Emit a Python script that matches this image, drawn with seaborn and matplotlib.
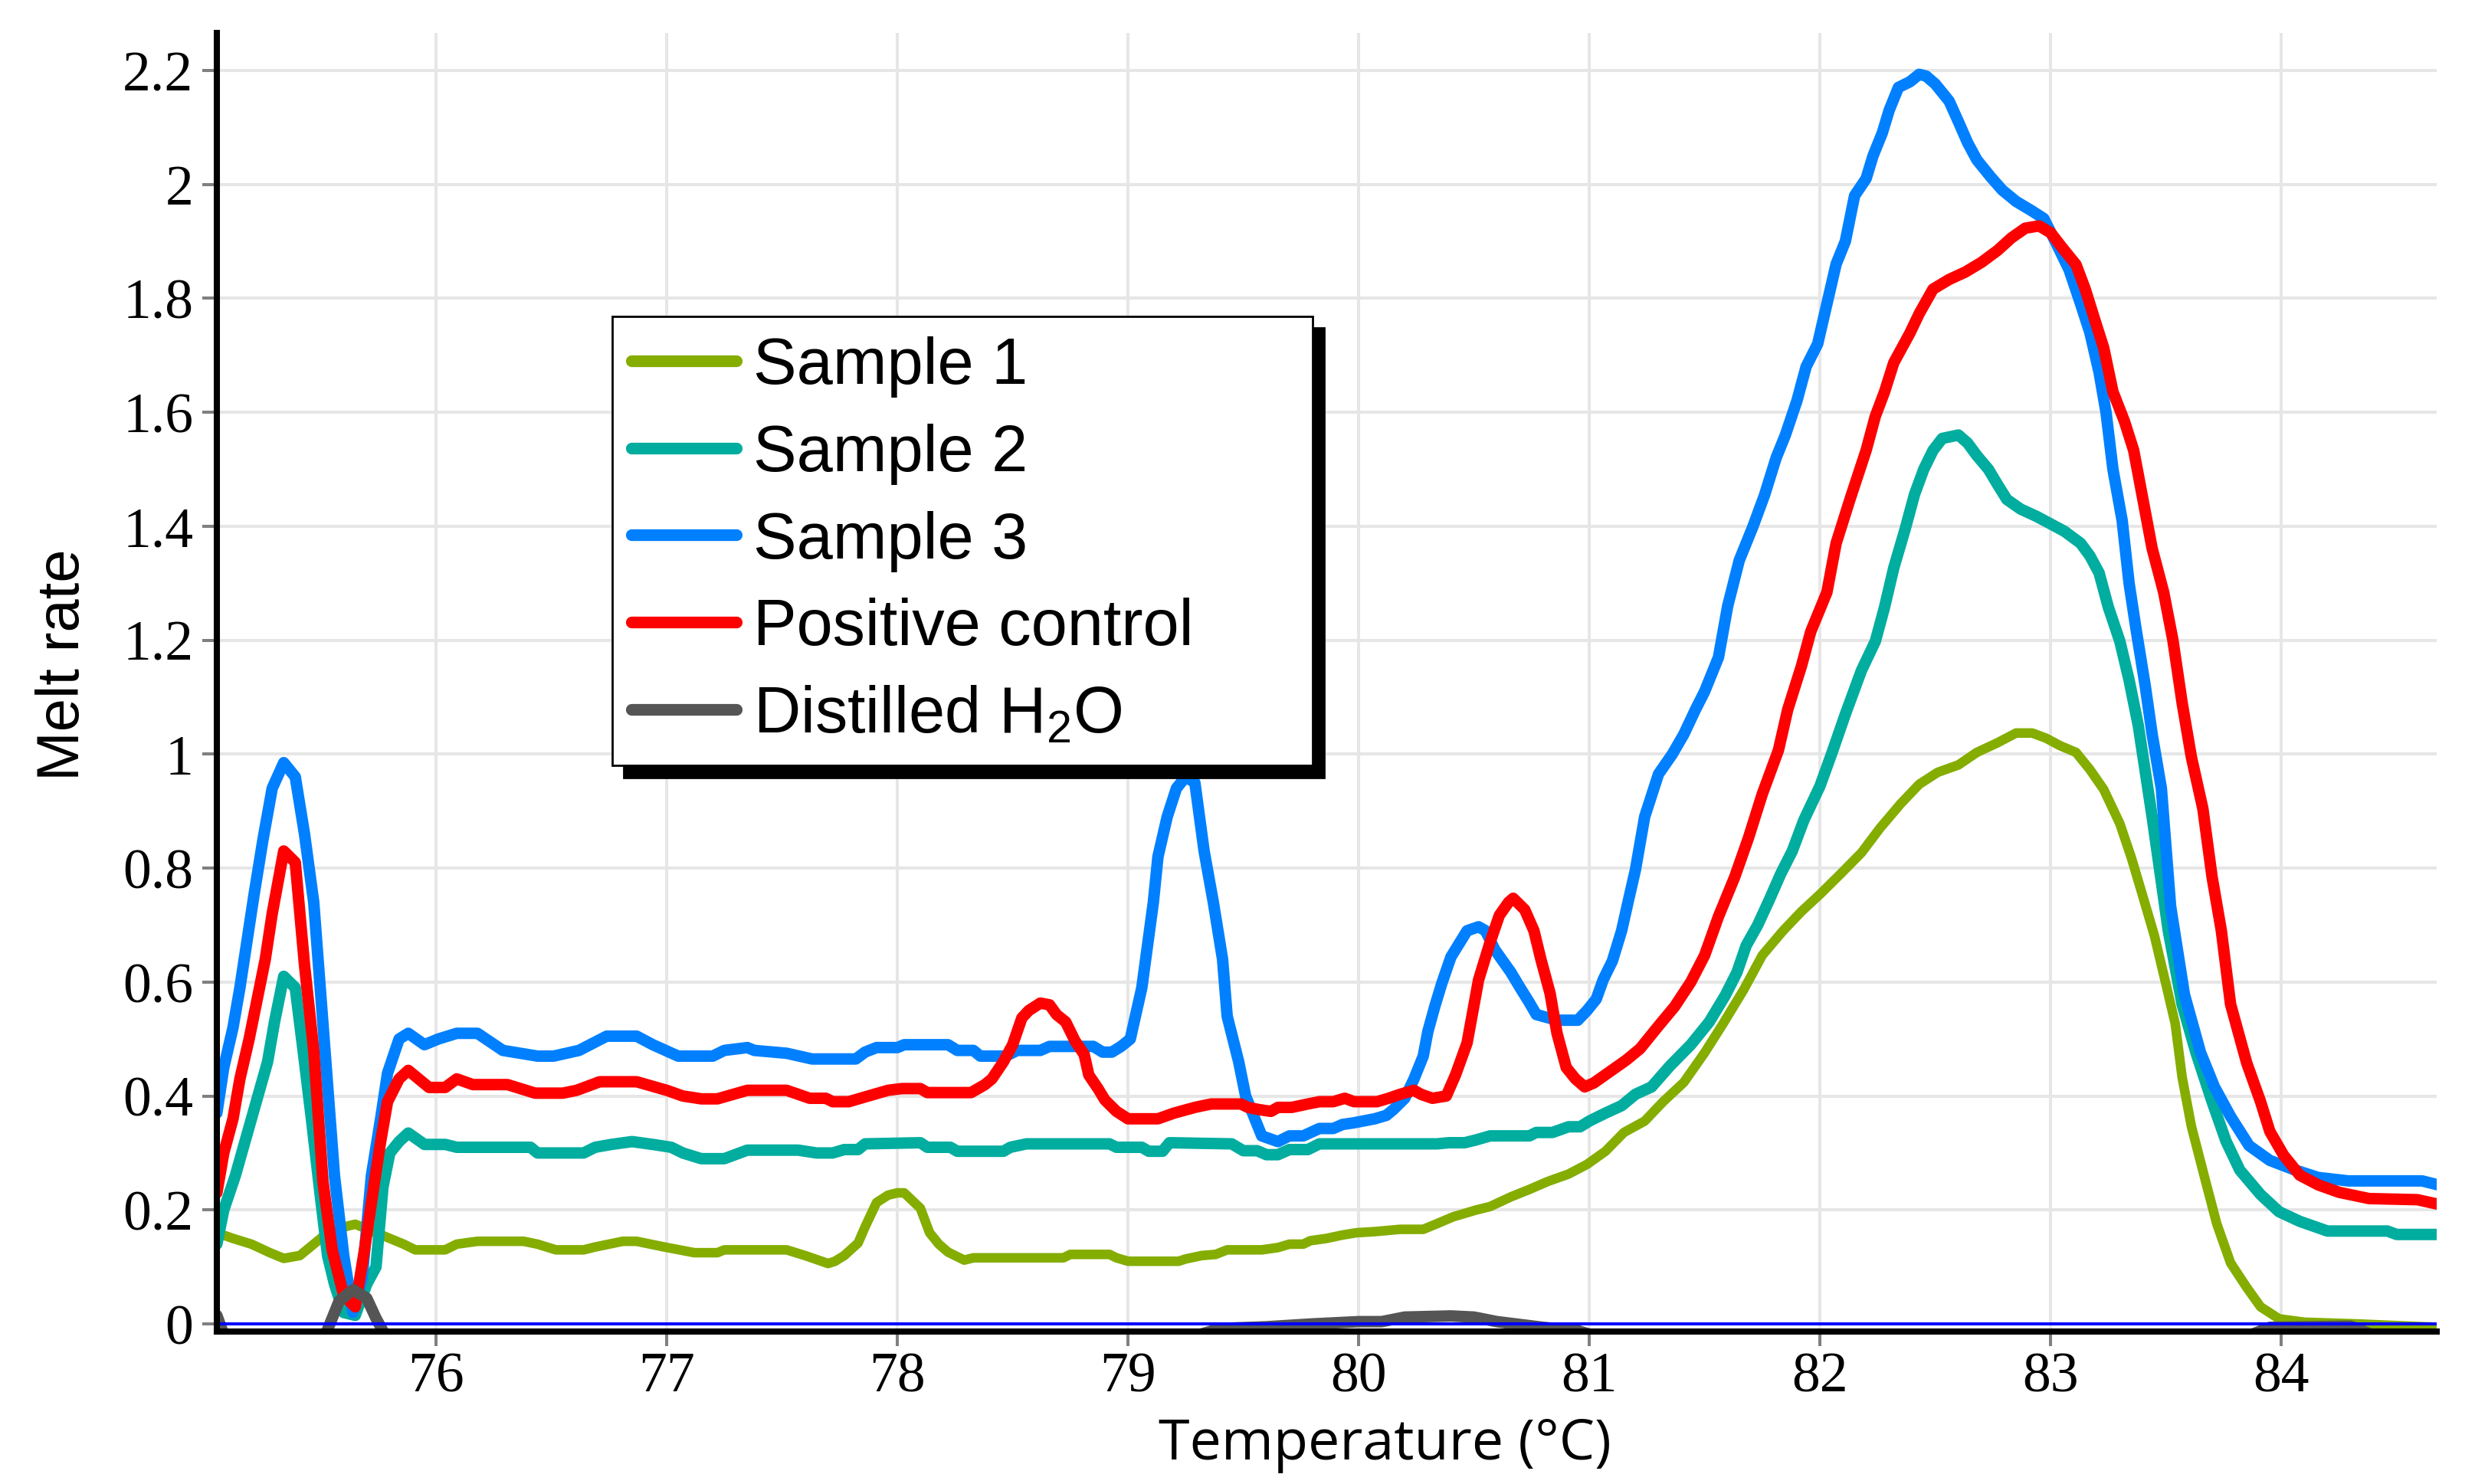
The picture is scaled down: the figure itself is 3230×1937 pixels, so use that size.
import pandas as pd
import seaborn as sns
import matplotlib.pyplot as plt
from matplotlib.lines import Line2D
from matplotlib.ticker import FuncFormatter

series = ["Sample 1", "Sample 2", "Sample 3", "Positive control", "Distilled H$_2$O"]
colors = ["#84ad00", "#00ad9f", "#0080ff", "#ff0000", "#555555"]
widths = [9.0, 10.8, 10.8, 10.8, 10.8]

x_ticks = [76, 77, 78, 79, 80, 81, 82, 83, 84]
y_ticks = [0, 0.2, 0.4, 0.6, 0.8, 1.0, 1.2, 1.4, 1.6, 1.8, 2.0, 2.2]

sample1_temp = [75.05, 75.12, 75.2, 75.28, 75.34, 75.41, 75.47, 75.53, 75.6, 75.65,
                75.71, 75.8, 75.86, 75.91, 76.04, 76.09, 76.18, 76.38, 76.44, 76.52,
                76.64, 76.69, 76.81, 76.87, 76.99, 77.12, 77.22, 77.25, 77.52, 77.6,
                77.7, 77.73, 77.77, 77.83, 77.86, 77.91, 77.96, 78.0, 78.03, 78.1,
                78.14, 78.18, 78.22, 78.29, 78.33, 78.72, 78.75, 78.92, 78.95, 79.0,
                79.22, 79.25, 79.32, 79.38, 79.43, 79.58, 79.65, 79.7, 79.76, 79.79,
                79.86, 79.93, 79.99, 80.07, 80.18, 80.28, 80.34, 80.41, 80.51, 80.57,
                80.66, 80.74, 80.82, 80.91, 80.99, 81.07, 81.15, 81.24, 81.32, 81.41,
                81.5, 81.58, 81.67, 81.75, 81.84, 81.92, 82.0, 82.09, 82.18, 82.26,
                82.35, 82.43, 82.51, 82.6, 82.68, 82.77, 82.85, 82.92, 82.98, 83.04,
                83.11, 83.17, 83.23, 83.3, 83.35, 83.4, 83.45, 83.5, 83.54, 83.57,
                83.61, 83.67, 83.72, 83.78, 83.85, 83.91, 83.99, 84.1, 84.33, 84.68]
sample1_rate = [0.16, 0.15, 0.14, 0.125, 0.115, 0.12, 0.14, 0.16, 0.17, 0.175,
                0.165, 0.15, 0.14, 0.13, 0.13, 0.14, 0.145, 0.145, 0.14, 0.13,
                0.13, 0.135, 0.145, 0.145, 0.135, 0.125, 0.125, 0.13, 0.13, 0.12,
                0.106, 0.11, 0.12, 0.142, 0.17, 0.213, 0.226, 0.23, 0.23, 0.203,
                0.16, 0.14, 0.126, 0.112, 0.116, 0.116, 0.122, 0.122, 0.116, 0.11,
                0.11, 0.114, 0.12, 0.122, 0.13, 0.13, 0.134, 0.14, 0.14, 0.146,
                0.15, 0.156, 0.16, 0.162, 0.166, 0.166, 0.176, 0.188, 0.2, 0.206,
                0.223, 0.236, 0.25, 0.263, 0.28, 0.303, 0.336, 0.356, 0.39, 0.424,
                0.476, 0.527, 0.587, 0.647, 0.69, 0.724, 0.754, 0.79, 0.827, 0.87,
                0.913, 0.947, 0.968, 0.981, 1.003, 1.02, 1.037, 1.037, 1.028, 1.015,
                1.003, 0.973, 0.938, 0.878, 0.818, 0.75, 0.681, 0.596, 0.527, 0.433,
                0.347, 0.253, 0.176, 0.107, 0.064, 0.03, 0.009, 0.003, 0.0, -0.006]

sample2_temp = [75.05, 75.08, 75.13, 75.2, 75.27, 75.3, 75.34, 75.39, 75.43, 75.46,
                75.5, 75.53, 75.56, 75.6, 75.65, 75.7, 75.74, 75.77, 75.8, 75.84,
                75.88, 75.95, 76.04, 76.09, 76.41, 76.44, 76.64, 76.69, 76.76, 76.85,
                76.94, 77.02, 77.07, 77.15, 77.25, 77.35, 77.57, 77.65, 77.72, 77.77,
                77.83, 77.86, 78.1, 78.13, 78.23, 78.26, 78.46, 78.49, 78.56, 78.92,
                78.95, 79.06, 79.09, 79.15, 79.18, 79.45, 79.5, 79.56, 79.6, 79.65,
                79.7, 79.78, 79.83, 80.34, 80.39, 80.46, 80.51, 80.57, 80.74, 80.77,
                80.84, 80.91, 80.96, 81.0, 81.07, 81.14, 81.2, 81.27, 81.35, 81.44,
                81.52, 81.59, 81.64, 81.68, 81.73, 81.78, 81.83, 81.88, 81.93, 82.0,
                82.05, 82.11, 82.18, 82.24, 82.28, 82.32, 82.37, 82.41, 82.45, 82.49,
                82.53, 82.6, 82.64, 82.68, 82.73, 82.77, 82.81, 82.87, 82.94, 83.0,
                83.06, 83.13, 83.17, 83.21, 83.25, 83.3, 83.34, 83.38, 83.41, 83.44,
                83.51, 83.57, 83.63, 83.7, 83.76, 83.82, 83.91, 83.99, 84.08, 84.2,
                84.46, 84.5, 84.68]
sample2_rate = [0.14, 0.2, 0.26, 0.36, 0.46, 0.53, 0.61, 0.59, 0.46, 0.36,
                0.22, 0.12, 0.07, 0.02, 0.015, 0.07, 0.1, 0.24, 0.3, 0.32,
                0.335, 0.315, 0.315, 0.31, 0.31, 0.3, 0.3, 0.31, 0.315, 0.32,
                0.315, 0.31, 0.3, 0.29, 0.29, 0.305, 0.305, 0.3, 0.3, 0.306,
                0.306, 0.316, 0.318, 0.31, 0.31, 0.303, 0.303, 0.31, 0.316, 0.316,
                0.31, 0.31, 0.303, 0.303, 0.318, 0.316, 0.304, 0.304, 0.297, 0.297,
                0.306, 0.306, 0.316, 0.316, 0.318, 0.318, 0.323, 0.33, 0.33, 0.336,
                0.336, 0.346, 0.346, 0.356, 0.37, 0.383, 0.403, 0.416, 0.453, 0.49,
                0.53, 0.577, 0.617, 0.664, 0.7, 0.744, 0.79, 0.83, 0.884, 0.944,
                1.0, 1.07, 1.147, 1.198, 1.258, 1.327, 1.396, 1.456, 1.5, 1.533,
                1.554, 1.56, 1.546, 1.524, 1.5, 1.473, 1.447, 1.43, 1.417, 1.404,
                1.391, 1.37, 1.348, 1.318, 1.258, 1.198, 1.13, 1.05, 0.97, 0.89,
                0.69, 0.561, 0.476, 0.39, 0.321, 0.27, 0.227, 0.197, 0.18, 0.163,
                0.163, 0.157, 0.157]

sample3_temp = [75.05, 75.08, 75.12, 75.15, 75.18, 75.21, 75.25, 75.29, 75.34, 75.39,
                75.43, 75.47, 75.5, 75.53, 75.56, 75.6, 75.64, 75.68, 75.72, 75.76,
                75.79, 75.84, 75.88, 75.95, 76.01, 76.09, 76.18, 76.29, 76.44, 76.51,
                76.62, 76.74, 76.87, 76.94, 77.05, 77.2, 77.25, 77.35, 77.38, 77.52,
                77.63, 77.82, 77.86, 77.91, 78.0, 78.03, 78.22, 78.26, 78.33, 78.36,
                78.47, 78.52, 78.62, 78.66, 78.85, 78.89, 78.93, 78.97, 79.01, 79.06,
                79.11, 79.13, 79.17, 79.21, 79.25, 79.29, 79.33, 79.37, 79.41, 79.43,
                79.48, 79.51, 79.58, 79.65, 79.7, 79.76, 79.83, 79.89, 79.93, 79.98,
                80.07, 80.12, 80.15, 80.2, 80.24, 80.28, 80.3, 80.33, 80.36, 80.4,
                80.47, 80.52, 80.55, 80.59, 80.66, 80.7, 80.74, 80.77, 80.86, 80.95,
                80.99, 81.03, 81.06, 81.1, 81.14, 81.17, 81.2, 81.24, 81.3, 81.36,
                81.41, 81.46, 81.5, 81.56, 81.6, 81.65, 81.71, 81.76, 81.81, 81.85,
                81.9, 81.94, 81.99, 82.03, 82.07, 82.11, 82.15, 82.2, 82.23, 82.27,
                82.3, 82.34, 82.39, 82.43, 82.46, 82.5, 82.56, 82.6, 82.64, 82.68,
                82.74, 82.79, 82.85, 82.92, 82.97, 83.02, 83.08, 83.13, 83.17, 83.21,
                83.24, 83.27, 83.31, 83.34, 83.37, 83.41, 83.44, 83.48, 83.52, 83.58,
                83.65, 83.71, 83.78, 83.86, 83.95, 84.06, 84.16, 84.29, 84.61, 84.68]
sample3_rate = [0.37, 0.45, 0.52, 0.59, 0.67, 0.75, 0.85, 0.94, 0.985, 0.96,
                0.86, 0.74, 0.58, 0.42, 0.26, 0.12, 0.02, 0.08, 0.26, 0.36,
                0.44, 0.5, 0.51, 0.49, 0.5, 0.51, 0.51, 0.48, 0.47, 0.47,
                0.48, 0.505, 0.505, 0.49, 0.47, 0.47, 0.48, 0.485, 0.48, 0.475,
                0.465, 0.465, 0.477, 0.485, 0.485, 0.49, 0.49, 0.48, 0.48, 0.47,
                0.47, 0.48, 0.48, 0.487, 0.487, 0.477, 0.477, 0.487, 0.5, 0.59,
                0.74, 0.82, 0.89, 0.94, 0.96, 0.95, 0.83, 0.74, 0.64, 0.54,
                0.46, 0.4, 0.33, 0.32, 0.33, 0.33, 0.343, 0.343, 0.35, 0.353,
                0.36, 0.366, 0.376, 0.396, 0.43, 0.47, 0.513, 0.557, 0.597, 0.644,
                0.69, 0.697, 0.69, 0.657, 0.617, 0.59, 0.564, 0.543, 0.533, 0.533,
                0.55, 0.57, 0.604, 0.637, 0.69, 0.744, 0.797, 0.89, 0.965, 1.0,
                1.035, 1.078, 1.11, 1.17, 1.26, 1.34, 1.4, 1.455, 1.52, 1.56,
                1.62, 1.68, 1.72, 1.79, 1.86, 1.9, 1.98, 2.01, 2.05, 2.09,
                2.13, 2.17, 2.18, 2.193, 2.19, 2.176, 2.146, 2.11, 2.073, 2.043,
                2.013, 1.99, 1.97, 1.953, 1.94, 1.9, 1.85, 1.79, 1.74, 1.67,
                1.6, 1.5, 1.41, 1.3, 1.22, 1.12, 1.035, 0.94, 0.733, 0.578,
                0.476, 0.416, 0.364, 0.313, 0.287, 0.27, 0.257, 0.251, 0.251, 0.244]

control_temp = [75.05, 75.08, 75.12, 75.15, 75.19, 75.22, 75.26, 75.29, 75.34, 75.39,
                75.43, 75.47, 75.51, 75.55, 75.6, 75.65, 75.69, 75.73, 75.76, 75.79,
                75.84, 75.88, 75.97, 76.04, 76.09, 76.16, 76.31, 76.43, 76.55, 76.61,
                76.71, 76.87, 77.0, 77.07, 77.15, 77.22, 77.35, 77.52, 77.62, 77.69,
                77.72, 77.79, 77.84, 77.9, 77.96, 78.02, 78.1, 78.13, 78.32, 78.38,
                78.41, 78.46, 78.5, 78.54, 78.57, 78.62, 78.66, 78.69, 78.73, 78.77,
                78.81, 78.83, 78.87, 78.9, 78.95, 79.0, 79.13, 79.2, 79.29, 79.36,
                79.49, 79.52, 79.57, 79.62, 79.65, 79.71, 79.78, 79.83, 79.89, 79.94,
                79.98, 80.08, 80.13, 80.18, 80.24, 80.27, 80.32, 80.38, 80.42, 80.47,
                80.52, 80.57, 80.61, 80.65, 80.67, 80.72, 80.76, 80.79, 80.83, 80.86,
                80.9, 80.94, 80.98, 81.02, 81.09, 81.16, 81.22, 81.3, 81.37, 81.44,
                81.5, 81.56, 81.63, 81.69, 81.75, 81.82, 81.86, 81.92, 81.96, 82.03,
                82.07, 82.13, 82.2, 82.24, 82.28, 82.32, 82.39, 82.43, 82.49, 82.56,
                82.63, 82.7, 82.77, 82.83, 82.89, 82.95, 83.0, 83.05, 83.11, 83.15,
                83.19, 83.23, 83.27, 83.32, 83.36, 83.4, 83.44, 83.49, 83.53, 83.57,
                83.61, 83.66, 83.7, 83.74, 83.78, 83.85, 83.91, 83.95, 84.01, 84.08,
                84.16, 84.25, 84.38, 84.59, 84.68]
control_rate = [0.23, 0.3, 0.36, 0.43, 0.5, 0.56, 0.64, 0.72, 0.83, 0.81,
                0.63, 0.48, 0.25, 0.13, 0.05, 0.03, 0.13, 0.24, 0.32, 0.39,
                0.43, 0.445, 0.415, 0.415, 0.43, 0.42, 0.42, 0.405, 0.405, 0.41,
                0.425, 0.425, 0.41, 0.4, 0.395, 0.395, 0.41, 0.41, 0.396, 0.396,
                0.39, 0.39, 0.396, 0.403, 0.41, 0.413, 0.413, 0.406, 0.406, 0.42,
                0.43, 0.46, 0.49, 0.537, 0.55, 0.563, 0.56, 0.543, 0.53, 0.497,
                0.473, 0.437, 0.413, 0.393, 0.373, 0.36, 0.36, 0.37, 0.38, 0.386,
                0.386, 0.38, 0.376, 0.373, 0.38, 0.38, 0.386, 0.39, 0.39, 0.396,
                0.39, 0.39, 0.396, 0.403, 0.41, 0.403, 0.396, 0.4, 0.437, 0.493,
                0.604, 0.67, 0.717, 0.74, 0.747, 0.727, 0.69, 0.64, 0.58, 0.51,
                0.45, 0.43, 0.416, 0.423, 0.443, 0.463, 0.483, 0.523, 0.557, 0.6,
                0.647, 0.715, 0.784, 0.853, 0.93, 1.007, 1.078, 1.155, 1.215, 1.284,
                1.37, 1.447, 1.533, 1.593, 1.636, 1.687, 1.739, 1.773, 1.816, 1.833,
                1.846, 1.863, 1.884, 1.906, 1.923, 1.927, 1.915, 1.889, 1.859, 1.816,
                1.764, 1.713, 1.636, 1.584, 1.533, 1.447, 1.361, 1.284, 1.2, 1.09,
                0.995, 0.904, 0.784, 0.69, 0.561, 0.458, 0.39, 0.338, 0.296, 0.261,
                0.244, 0.231, 0.22, 0.218, 0.21]

water_temp = [75.05, 75.09, 75.2, 75.45, 75.5, 75.54, 75.58, 75.64, 75.7, 75.74,
              75.78, 75.9, 79.0, 79.3, 79.4, 79.6, 79.8, 80.0, 80.1, 80.2,
              80.4, 80.5, 80.6, 80.8, 80.95, 81.1, 83.8, 83.95, 84.3, 84.4,
              84.68]
water_rate = [0.015, -0.03, -0.05, -0.05, -0.04, 0.0, 0.04, 0.06, 0.045, 0.01,
              -0.02, -0.05, -0.05, -0.02, -0.008, -0.005, 0.0, 0.004, 0.004, 0.012,
              0.014, 0.012, 0.004, -0.006, -0.012, -0.03, -0.03, -0.006, -0.004, -0.02,
              -0.02]

temps = [sample1_temp, sample2_temp, sample3_temp, control_temp, water_temp]
rates = [sample1_rate, sample2_rate, sample3_rate, control_rate, water_rate]

frames = []
for name, t, r in zip(series, temps, rates):
    frames.append(pd.DataFrame({"temperature": t, "melt_rate": r, "series": name}))
df = pd.concat(frames, ignore_index=True)

sns.set_theme(style="whitegrid")
plt.rcParams["font.family"] = ["Liberation Sans", "DejaVu Sans"]
plt.rcParams["mathtext.fontset"] = "custom"
plt.rcParams["mathtext.rm"] = "Liberation Sans"
plt.rcParams["mathtext.it"] = "Liberation Sans:italic"
plt.rcParams["mathtext.default"] = "regular"

fig = plt.figure(figsize=(32.305, 19.375), dpi=100)
ax = fig.add_axes([0.0876, 0.1027, 0.8969, 0.8746])

sns.lineplot(data=df, x="temperature", y="melt_rate", hue="series",
             hue_order=series, palette=dict(zip(series, colors)),
             estimator=None, sort=False, legend=False, ax=ax)
for line, w in zip(ax.lines, widths):
    line.set_linewidth(w)
    line.set_solid_joinstyle("round")

ax.axhline(0, color="#0000ff", linewidth=2.9, zorder=2.4)

ax.set_xlim(75.05, 84.675)
ax.set_ylim(-0.0134, 2.265)
ax.set_xticks(x_ticks)
ax.set_yticks(y_ticks)
ax.yaxis.set_major_formatter(FuncFormatter(lambda v, p: f"{v:g}"))

ax.grid(True, color="#e6e6e6", linewidth=2.9)
for side in ["top", "right"]:
    ax.spines[side].set_visible(False)
for side in ["left", "bottom"]:
    ax.spines[side].set_color("black")
    ax.spines[side].set_linewidth(5.8)

ax.tick_params(axis="both", bottom=True, left=True, direction="out",
               length=14, width=2.9, color="#808080")
ax.tick_params(axis="x", pad=5)
ax.tick_params(axis="y", pad=8)
for lab in ax.get_xticklabels() + ax.get_yticklabels():
    lab.set_fontfamily("Liberation Serif")
    lab.set_fontsize(53)
    lab.set_color("black")

ax.set_xlabel("Temperature (°C)", fontfamily="Open Sans", fontsize=53, color="black")
ax.set_ylabel("Melt rate", fontfamily="Liberation Sans", fontsize=56, color="black")
ax.xaxis.set_label_coords(0.526, -0.065)
ax.yaxis.set_label_coords(-0.0566, 0.514)

handles = [Line2D([], [], color=c, linewidth=11, solid_capstyle="round") for c in colors]
leg = ax.legend(handles, series, loc="upper left",
                bbox_to_anchor=(0.178, 0.432, 0.3155, 0.35), mode="expand",
                borderaxespad=0, prop={"family": "Liberation Sans", "size": 61},
                labelcolor="black",
                frameon=True, fancybox=False, framealpha=1, edgecolor="black",
                shadow={"ox": 11, "oy": -11, "facecolor": "black",
                        "edgecolor": "black", "alpha": 1},
                handlelength=1.62, handletextpad=0.25, labelspacing=0.4,
                borderpad=0.3)
leg.get_frame().set_linewidth(2)

fig.savefig("out.png", dpi=100, facecolor="white")
